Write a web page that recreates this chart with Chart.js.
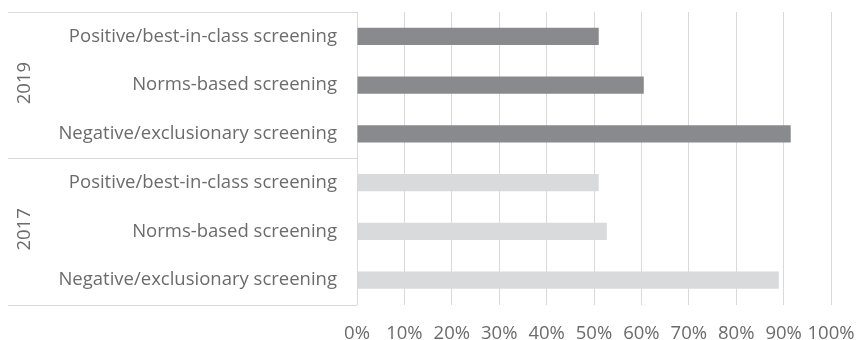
<!DOCTYPE html>
<html>
<head>
<meta charset="utf-8">
<script src="https://cdn.jsdelivr.net/npm/chart.js@4/dist/chart.umd.min.js"></script>
<style>
  html, body { margin: 0; padding: 0; background: #fff; }
  #wrap { width: 857px; height: 340px; }
</style>
</head>
<body>
<div id="wrap"><canvas id="screeningChart"></canvas></div>
<script>
// Категорії та значення (частка, %)
const strategies = ['Positive/best-in-class screening', 'Norms-based screening', 'Negative/exclusionary screening'];
const years = ['2019', '2017'];
const values2019 = [51, 60.5, 91.5];
const values2017 = [51, 52.7, 89];
const xTicks = [0, 10, 20, 30, 40, 50, 60, 70, 80, 90, 100];

const labels = [...strategies, ...strategies];
const colors2019 = '#898a8d';
const colors2017 = '#d9dadc';
const gridColor = '#d9d9d9';
const textColor = '#6b6b6b';
const fontFamily = '"Open Sans", sans-serif';
const fontSize = 18.5;

// Підписи років і рамки груп зліва від осі
const groupPlugin = {
  id: 'groupPlugin',
  afterDraw(chart) {
    const ctx = chart.ctx;
    const y = chart.scales.y;
    const area = chart.chartArea;
    const step = y.getPixelForValue(1) - y.getPixelForValue(0);
    const left = 8;
    ctx.save();
    ctx.strokeStyle = gridColor;
    ctx.lineWidth = 1;
    const lines = [area.top, y.getPixelForValue(2) + step / 2, area.bottom];
    lines.forEach(py => {
      ctx.beginPath();
      ctx.moveTo(left, Math.round(py) + 0.5);
      ctx.lineTo(area.left, Math.round(py) + 0.5);
      ctx.stroke();
    });
    ctx.fillStyle = textColor;
    ctx.font = fontSize + 'px ' + fontFamily;
    ctx.textAlign = 'center';
    ctx.textBaseline = 'middle';
    years.forEach((yr, i) => {
      const cy = (y.getPixelForValue(i * 3) + y.getPixelForValue(i * 3 + 2)) / 2;
      ctx.save();
      ctx.translate(25, cy - 2);
      ctx.rotate(-Math.PI / 2);
      ctx.fillText(yr, 0, 0);
      ctx.restore();
    });
    ctx.restore();
  }
};

new Chart(document.getElementById('screeningChart'), {
  type: 'bar',
  data: {
    labels: labels,
    datasets: [
      {
        label: '2019',
        data: [...values2019, null, null, null],
        backgroundColor: colors2019
      },
      {
        label: '2017',
        data: [null, null, null, ...values2017],
        backgroundColor: colors2017
      }
    ]
  },
  options: {
    indexAxis: 'y',
    responsive: true,
    maintainAspectRatio: false,
    animation: false,
    datasets: { bar: { skipNull: true, categoryPercentage: 1, barPercentage: 0.35 } },
    layout: { padding: { top: 12, right: 26, bottom: 0, left: 0 } },
    plugins: { legend: { display: false }, tooltip: { enabled: false } },
    scales: {
      x: {
        min: 0,
        max: 100,
        afterBuildTicks: scale => { scale.ticks = xTicks.map(v => ({ value: v })); },
        afterFit: scale => {
          scale.height = 35.5;
          scale.paddingLeft = 0;
          scale.paddingRight = 0;
        },
        grid: { color: gridColor, drawTicks: false },
        border: { display: false },
        ticks: {
          padding: 18,
          maxRotation: 0,
          minRotation: 0,
          autoSkip: false,
          color: textColor,
          font: { family: fontFamily, size: fontSize },
          callback: v => v + '%'
        }
      },
      y: {
        afterFit: scale => {
          scale.width = 357;
          scale.paddingTop = 0;
          scale.paddingBottom = 0;
        },
        grid: { display: false, drawTicks: false },
        border: { display: true, color: gridColor },
        ticks: {
          padding: 20,
          color: textColor,
          font: { family: fontFamily, size: fontSize }
        }
      }
    }
  },
  plugins: [groupPlugin]
});
</script>
</body>
</html>
